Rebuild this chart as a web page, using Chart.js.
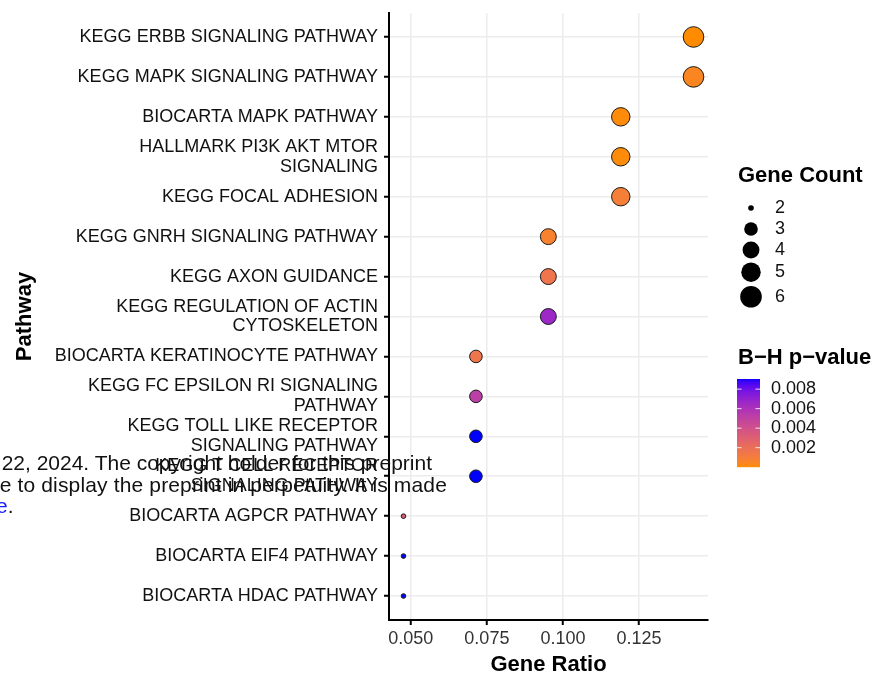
<!DOCTYPE html>
<html>
<head>
<meta charset="utf-8">
<script src="https://cdn.jsdelivr.net/npm/chart.js@4.4.1/dist/chart.umd.min.js"></script>
<style>
body { margin: 0; background: #fff; }
#wrap { position: relative; width: 876px; height: 675px; overflow: hidden; }
.wm { position: absolute; font-family: "Liberation Sans", Arial, sans-serif; font-size: 21px; color: #111; white-space: nowrap; line-height: 1; }
</style>
</head>
<body>
<div id="wrap">
<canvas id="myChart" width="876" height="675"></canvas>
<div class="wm" style="right:444px; top:452px">22, 2024. The copyright holder for this preprint</div>
<div class="wm" style="right:429px; top:474px; letter-spacing:0.15px">e to display the preprint in perpetuity. It is made</div>
<div class="wm" style="left:-4px; top:495px"><span style="color:#1a1aff">e</span>.</div>
</div>
<script>
// Pathways top to bottom, line breaks as wrapped in the figure
const pathways = [
    'KEGG ERBB SIGNALING PATHWAY',
    'KEGG MAPK SIGNALING PATHWAY',
    'BIOCARTA MAPK PATHWAY',
    'HALLMARK PI3K AKT MTOR\nSIGNALING',
    'KEGG FOCAL ADHESION',
    'KEGG GNRH SIGNALING PATHWAY',
    'KEGG AXON GUIDANCE',
    'KEGG REGULATION OF ACTIN\nCYTOSKELETON',
    'BIOCARTA KERATINOCYTE PATHWAY',
    'KEGG FC EPSILON RI SIGNALING\nPATHWAY',
    'KEGG TOLL LIKE RECEPTOR\nSIGNALING PATHWAY',
    'KEGG T CELL RECEPTOR\nSIGNALING PATHWAY',
    'BIOCARTA AGPCR PATHWAY',
    'BIOCARTA EIF4 PATHWAY',
    'BIOCARTA HDAC PATHWAY'
];
const geneRatio = [0.1429, 0.1429, 0.1190, 0.1190, 0.1190, 0.0952, 0.0952, 0.0952, 0.0714, 0.0714, 0.0714, 0.0714, 0.0476, 0.0476, 0.0476];
const geneCount = [6, 6, 5, 5, 5, 4, 4, 4, 3, 3, 3, 3, 2, 2, 2];
const pValue = [0.00002, 0.0004, 0.0001, 0.0001, 0.0009, 0.0007, 0.0016, 0.0066, 0.0016, 0.0052, 0.00904, 0.00904, 0.0031, 0.00904, 0.00904];

const xTicks = [0.050, 0.075, 0.100, 0.125];
const countLevels = [2, 3, 4, 5, 6];
const pTicks = [0.002, 0.004, 0.006, 0.008];

const FONT = '"Liberation Sans", Arial, sans-serif';
const lowColor = [255, 140, 0];   // darkorange
const highColor = [0, 0, 255];    // blue

// colour interpolation in CIELAB like ggplot's gradient
function toLab(rgb){
    const lin = rgb.map(v => { v /= 255; return v <= 0.04045 ? v / 12.92 : Math.pow((v + 0.055) / 1.055, 2.4); });
    let x = (lin[0]*0.4124 + lin[1]*0.3576 + lin[2]*0.1805) / 0.95047;
    let y = (lin[0]*0.2126 + lin[1]*0.7152 + lin[2]*0.0722);
    let z = (lin[0]*0.0193 + lin[1]*0.1192 + lin[2]*0.9505) / 1.08883;
    const f = t => t > 0.008856 ? Math.cbrt(t) : 7.787 * t + 16 / 116;
    x = f(x); y = f(y); z = f(z);
    return [116 * y - 16, 500 * (x - y), 200 * (y - z)];
}
function fromLab(lab){
    let y = (lab[0] + 16) / 116, x = lab[1] / 500 + y, z = y - lab[2] / 200;
    const g = t => t*t*t > 0.008856 ? t*t*t : (t - 16 / 116) / 7.787;
    x = g(x) * 0.95047; y = g(y); z = g(z) * 1.08883;
    const r = x*3.2406 + y*-1.5372 + z*-0.4986;
    const gg = x*-0.9689 + y*1.8758 + z*0.0415;
    const b = x*0.0557 + y*-0.2040 + z*1.0570;
    return [r, gg, b].map(v => {
        v = v <= 0.0031308 ? 12.92 * v : 1.055 * Math.pow(v, 1 / 2.4) - 0.055;
        return Math.round(Math.min(1, Math.max(0, v)) * 255);
    });
}
const labLow = toLab(lowColor), labHigh = toLab(highColor);
const pMin = Math.min(...pValue), pMax = Math.max(...pValue);
function pColor(p){
    const t = Math.min(1, Math.max(0, (p - pMin) / (pMax - pMin)));
    const c = fromLab(labLow.map((v, i) => v + (labHigh[i] - v) * t));
    return `rgb(${c[0]},${c[1]},${c[2]})`;
}

const cMin = Math.min(...geneCount), cMax = Math.max(...geneCount);
function radius(c){
    return 2.3 + Math.sqrt((c - cMin) / (cMax - cMin)) * 8;
}

const xMinData = Math.min(...geneRatio), xMaxData = Math.max(...geneRatio);
const xPad = (xMaxData - xMinData) * 0.05;

const legendPlugin = {
    id: 'sideLegends',
    afterDraw(chart){
        const ctx = chart.ctx;
        ctx.save();
        ctx.textBaseline = 'middle';
        ctx.textAlign = 'left';
        ctx.fillStyle = '#000';
        ctx.font = 'bold 22px ' + FONT;
        ctx.fillText('Gene Count', 738, 176);

        // size keys
        let y = 208, prevH = null;
        ctx.font = '18px ' + FONT;
        for(const c of countLevels){
            const r = radius(c) + 0.5;
            const h = Math.max(21, 2 * r + 4);
            if(prevH !== null) y += (prevH + h) / 2;
            prevH = h;
            ctx.fillStyle = '#000';
            ctx.beginPath();
            ctx.arc(751, y, r, 0, Math.PI * 2);
            ctx.fill();
            ctx.fillStyle = '#111';
            ctx.fillText(String(c), 775, y);
        }

        ctx.fillStyle = '#000';
        ctx.font = 'bold 22px ' + FONT;
        ctx.fillText('B\u2212H p\u2212value', 738, 358);

        // colour bar
        const bx = 737, bw = 23, top = 379, bottom = 467;
        for(let py = top; py < bottom; py++){
            const p = pMax - (py - top + 0.5) / (bottom - top) * (pMax - pMin);
            ctx.fillStyle = pColor(p);
            ctx.fillRect(bx, py, bw, 1.2);
        }
        ctx.font = '18px ' + FONT;
        for(const t of pTicks){
            const ty = bottom - (t - pMin) / (pMax - pMin) * (bottom - top);
            ctx.strokeStyle = 'rgba(255,255,255,0.85)';
            ctx.lineWidth = 1;
            ctx.beginPath();
            ctx.moveTo(bx, ty); ctx.lineTo(bx + 4.5, ty);
            ctx.moveTo(bx + bw - 4.5, ty); ctx.lineTo(bx + bw, ty);
            ctx.stroke();
            ctx.fillStyle = '#111';
            ctx.fillText(t.toFixed(3), 771, ty);
        }
        ctx.restore();
    }
};

const ctx = document.getElementById('myChart').getContext('2d');
const chart = new Chart(ctx, {
    type: 'scatter',
    data: {
        datasets: [{
            label: 'Pathways',
            data: geneRatio.map((r, i) => ({x: r, y: i})),
            pointRadius: c => radius(geneCount[c.dataIndex]),
            pointBackgroundColor: c => pColor(pValue[c.dataIndex]),
            pointBorderColor: '#1a1a1a',
            pointBorderWidth: 1
        }]
    },
    options: {
        responsive: false,
        animation: false,
        events: [],
        layout: { padding: { left: 0, right: 168, top: 13, bottom: 0 } },
        plugins: { legend: { display: false }, tooltip: { enabled: false } },
        scales: {
            x: {
                type: 'linear',
                min: xMinData - xPad,
                max: xMaxData + xPad,
                afterBuildTicks: s => { s.ticks = xTicks.map(v => ({value: v})); },
                afterFit: s => { s.height = 55; s.paddingLeft = 0; s.paddingRight = 0; },
                ticks: {
                    callback: v => Number(v).toFixed(3),
                    color: '#333',
                    font: { family: FONT, size: 18 },
                    padding: 3,
                    maxRotation: 0
                },
                grid: { color: '#ececec', lineWidth: 1.5, tickColor: '#000', tickWidth: 2, tickLength: 5 },
                border: { color: '#000', width: 2 },
                title: {
                    display: true,
                    text: 'Gene Ratio',
                    color: '#000',
                    font: { family: FONT, size: 22, weight: 'bold', lineHeight: 0.9 },
                    padding: { top: 0, bottom: 0 }
                }
            },
            y: {
                type: 'linear',
                reverse: true,
                min: -0.6,
                max: pathways.length - 1 + 0.6,
                afterBuildTicks: s => { s.ticks = pathways.map((_, i) => ({value: i})); },
                afterFit: s => { s.width = 389; s.paddingTop = 0; s.paddingBottom = 0; },
                ticks: {
                    callback: v => pathways[v] !== undefined ? pathways[v].split('\n') : '',
                    color: '#111',
                    font: { family: FONT, size: 18, lineHeight: 1.1 },
                    padding: 6,
                    autoSkip: false
                },
                grid: { color: '#ececec', lineWidth: 1.5, tickColor: '#000', tickWidth: 2, tickLength: 5 },
                border: { color: '#000', width: 2 },
                title: {
                    display: true,
                    text: 'Pathway',
                    color: '#000',
                    font: { family: FONT, size: 22, weight: 'bold' },
                    padding: { top: 12, bottom: 0 }
                }
            }
        }
    },
    plugins: [legendPlugin]
});
</script>
</body>
</html>
